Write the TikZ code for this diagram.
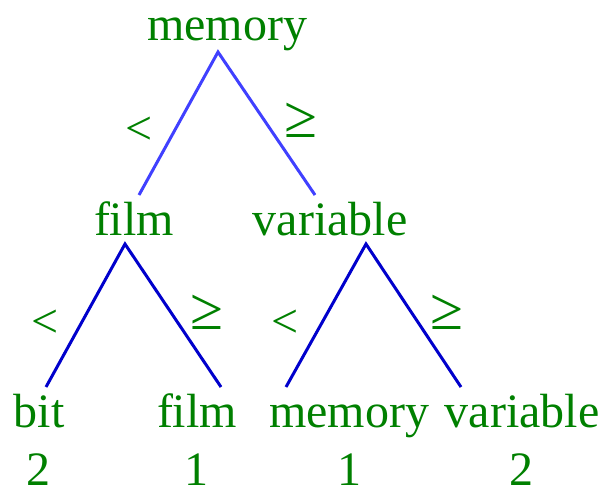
\documentclass[tikz,border=0pt]{standalone}
\usepackage{fontspec}
\setmainfont{Liberation Serif}
\usepackage{tikz}
\definecolor{wordgreen}{RGB}{0,128,0}
\definecolor{topblue}{RGB}{64,64,255}
\definecolor{lowblue}{RGB}{0,0,204}

\begin{document}
\begin{tikzpicture}[x=0.5pt, y=-0.5pt,
    word/.style={text=wordgreen, anchor=base, inner sep=0pt, font=\fontsize{24}{28}\selectfont},
    rel/.style={text=wordgreen, inner sep=0pt, font=\fontsize{24}{28}\selectfont},
    relge/.style={rel, font=\fontsize{30}{34}\selectfont},
    edge/.style={line width=1.5pt}]
        \useasboundingbox (0,0) rectangle (604,488);
        \begin{scope}
            % words
            \node [word] (root) at (227,40) {memory};
            \node [word] (filmA) at (134,235) {film};
            \node [word] (varA) at (330,235) {variable};
            \node [word] (bit) at (39,427) {bit};
            \node [word] (filmB) at (197,427) {film};
            \node [word] (memB) at (349,427) {memory};
            \node [word] (varB) at (522,427) {variable};
            % counts
            \node [word] (bitN) at (38,485) {2};
            \node [word] (filmN) at (196,485) {1};
            \node [word] (memN) at (349,485) {1};
            \node [word] (varN) at (521,485) {2};
            % line ends
            \coordinate (rootTop) at (218,52);
            \coordinate (rootL) at (139,195);
            \coordinate (rootR) at (315,195);
            \coordinate (filmTop) at (125,244);
            \coordinate (filmL) at (46,387);
            \coordinate (filmR) at (221,387);
            \coordinate (varTop) at (366,244);
            \coordinate (varL) at (286,387);
            \coordinate (varR) at (461,387);
            \draw [edge, topblue] (rootL) -- (rootTop) -- (rootR);
            \draw [edge, lowblue] (filmL) -- (filmTop) -- (filmR);
            \draw [edge, lowblue] (varL) -- (varTop) -- (varR);
            % relations
            \node [rel] (lt1) at (139,131) {<};
            \node [relge] (ge1) at (301,120) {≥};
            \node [rel] (lt2) at (45,324) {<};
            \node [relge] (ge2) at (207,312) {≥};
            \node [rel] (lt3) at (285,324) {<};
            \node [relge] (ge3) at (447,312) {≥};
        \end{scope}
    \end{tikzpicture}
\end{document}
